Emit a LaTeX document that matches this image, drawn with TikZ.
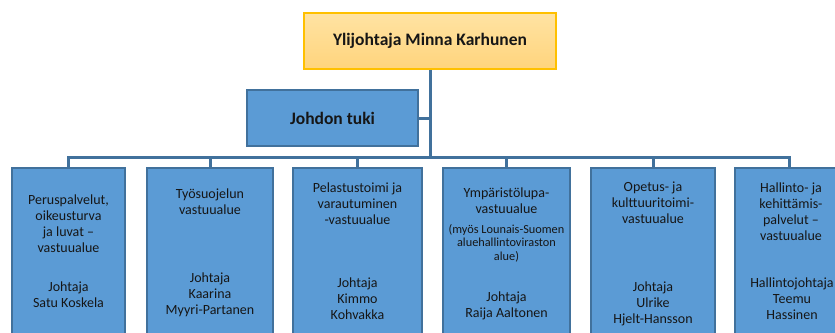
\documentclass[tikz,border=0pt]{standalone}
\usepackage{fontspec}
\setmainfont{Carlito}
\definecolor{unitfill}{HTML}{5B9BD5}
\definecolor{unitborder}{HTML}{41719C}
\definecolor{conncol}{HTML}{41719C}
\definecolor{topborder}{HTML}{FFC000}
\definecolor{toptop}{HTML}{FFE3A3}
\definecolor{topbot}{HTML}{FFD47C}
\definecolor{textc}{HTML}{161616}
\begin{document}
\begin{tikzpicture}[x=1pt,y=-1pt,
  unitbox/.style={draw=unitborder, line width=1.5pt, fill=unitfill, anchor=north, minimum height=220pt, inner sep=0pt},
  headtext/.style={font=\fontsize{17.5}{21}\selectfont\bfseries, text=textc},
  conn/.style={draw=conncol, line width=3pt},
  txt/.style={align=center, anchor=north, inner sep=0pt, font=\fontsize{14}{16}\selectfont, text=textc, yshift=11.2pt},
  smalltxt/.style={align=center, anchor=north, inner sep=0pt, font=\fontsize{12.3}{13.5}\selectfont, text=textc, yshift=9.45pt}
]
\clip (0,0) rectangle (835,332);
\fill[white] (0,0) rectangle (835,332);

% top
\node[headtext, draw=topborder, line width=1.5pt, top color=toptop, bottom color=topbot,
      minimum width=252pt, minimum height=56pt, inner sep=0pt] (top) at (430,41) {Ylijohtaja Minna Karhunen};
\node[headtext, draw=unitborder, line width=1.5pt, fill=unitfill,
      minimum width=171pt, minimum height=56pt, inner sep=0pt] (tuki) at (332.5,118) {Johdon tuki};

% units
\node[unitbox, minimum width=113pt] (b1) at (68.5,167) {};
\node[unitbox, minimum width=126pt] (b2) at (210,167) {};
\node[unitbox, minimum width=129pt] (b3) at (357.5,167) {};
\node[unitbox, minimum width=127pt] (b4) at (506.5,167) {};
\node[unitbox, minimum width=124pt] (b5) at (653,167) {};
\node[unitbox, minimum width=108pt] (b6) at (789,167) {};

% connectors
\coordinate (bus) at (430,157);
\draw[conn] (top.south) -- (bus);
\draw[conn] (tuki.east) -- (tuki.east -| top.south);
\foreach \b in {b1,b2,b3,b4,b5,b6}{
  \draw[conn] (bus) -| (\b.north);
}

% texts
\node[txt] (t1a) at (68.5,204) {\strut Peruspalvelut,\\oikeusturva\\ja luvat –\\vastuualue};
\node[txt] (t1b) at (68.5,291) {\strut Johtaja\\Satu Koskela};

\node[txt] (t2a) at (210,198) {\strut Työsuojelun\\vastuualue};
\node[txt] (t2b) at (210,282) {\strut Johtaja\\Kaarina\\Myyri-Partanen};

\node[txt] (t3a) at (357.5,192) {\strut Pelastustoimi ja\\varautuminen\\-vastuualue};
\node[txt] (t3b) at (357.5,287) {\strut Johtaja\\Kimmo\\Kohvakka};

\node[txt] (t4a) at (506.5,197) {\strut Ympäristölupa-\\vastuualue};
\node[smalltxt] (t4s) at (506.5,233) {\strut (myös Lounais-Suomen\\aluehallintoviraston\\alue)};
\node[txt] (t4b) at (506.5,301) {\strut Johtaja\\Raija Aaltonen};

\node[txt] (t5a) at (653,191) {\strut Opetus- ja\\kulttuuritoimi-\\vastuualue};
\node[txt] (t5b) at (653,291) {\strut Johtaja\\Ulrike\\Hjelt-Hansson};

\node[txt] (t6a) at (791,192) {\strut Hallinto- ja\\kehittämis-\\palvelut –\\vastuualue};
\node[txt] (t6b) at (792,287) {\strut Hallintojohtaja\\Teemu\\Hassinen};
\end{tikzpicture}
\end{document}
